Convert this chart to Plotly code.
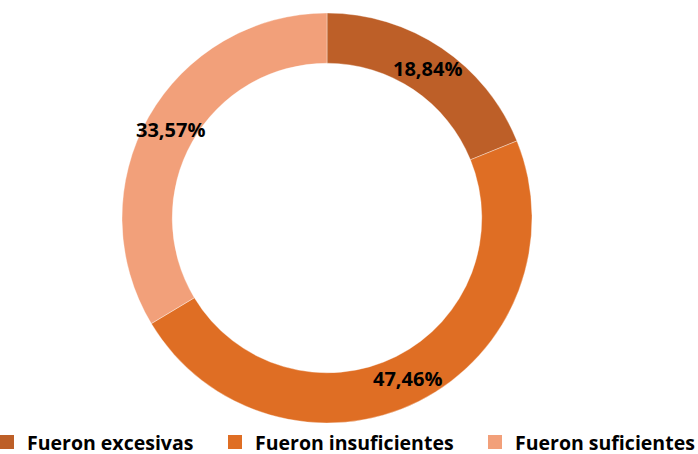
import math
import plotly.graph_objects as go

categories = ["Fueron excesivas", "Fueron insuficientes", "Fueron suficientes"]
values = [18.84, 47.46, 33.57]
colors = ["#bd5f28", "#df6e24", "#f2a07a"]

FONT = "Open Sans, Liberation Sans, Arial, sans-serif"
W, H = 698, 454
HOLE = 0.755
DOM_X = [122 / W, 532 / W]
DOM_Y = [(H - 423) / H, (H - 13) / H]

fig = go.Figure(go.Pie(
    labels=categories,
    values=values,
    hole=HOLE,
    sort=False,
    direction="clockwise",
    rotation=0,
    marker=dict(colors=colors, line=dict(color="rgba(255,255,255,0.6)", width=0.6)),
    textinfo="none",
    hoverinfo="label+value",
    showlegend=False,
    domain=dict(x=DOM_X, y=DOM_Y),
))

# value labels placed at the middle of each slice's ring (derived from the data)
cx = (DOM_X[0] + DOM_X[1]) / 2 * W
cy = (DOM_Y[0] + DOM_Y[1]) / 2 * H
R = min((DOM_X[1] - DOM_X[0]) * W, (DOM_Y[1] - DOM_Y[0]) * H) / 2
r_mid = R * (1 + HOLE) / 2
total = sum(values)
cum = 0.0
for v in values:
    ang = 2 * math.pi * (cum + v / 2) / total
    cum += v
    px = cx + r_mid * math.sin(ang)
    py = cy + r_mid * math.cos(ang)
    fig.add_annotation(
        x=px / W, y=py / H, xref="paper", yref="paper",
        text=f"{v:.2f}%".replace(".", ","),
        showarrow=False, xanchor="center", yanchor="middle",
        font=dict(family=FONT, size=20, color="#000000", weight="bold"),
    )

# legend entries (one legend per category so spacing can follow the reference)
legend_ids = ["legend", "legend2", "legend3"]
legend_x_px = [-13, 215, 475]
legend_font = dict(family=FONT, size=19.5, color="#000000", weight="bold")
for name, col, lid in zip(categories, colors, legend_ids):
    fig.add_trace(go.Scatter(
        x=[None], y=[None], mode="markers", name=name, legend=lid,
        marker=dict(symbol="square", size=14, color=col),
        showlegend=True, hoverinfo="skip",
    ))
legend_y = -0.017
layout_legends = {}
for lid, lx in zip(legend_ids, legend_x_px):
    layout_legends[lid] = dict(
        orientation="h", x=lx / W, xanchor="left",
        y=legend_y, yanchor="bottom",
        font=legend_font, itemsizing="trace",
        bgcolor="rgba(0,0,0,0)",
    )

fig.update_layout(
    width=W, height=H,
    margin=dict(l=0, r=0, t=0, b=0, autoexpand=False),
    paper_bgcolor="white",
    plot_bgcolor="white",
    xaxis=dict(visible=False),
    yaxis=dict(visible=False),
    font=dict(family=FONT),
    **layout_legends,
)

fig.write_html("out.html", config={"displayModeBar": False},
               post_script="document.body.style.margin='0';")
